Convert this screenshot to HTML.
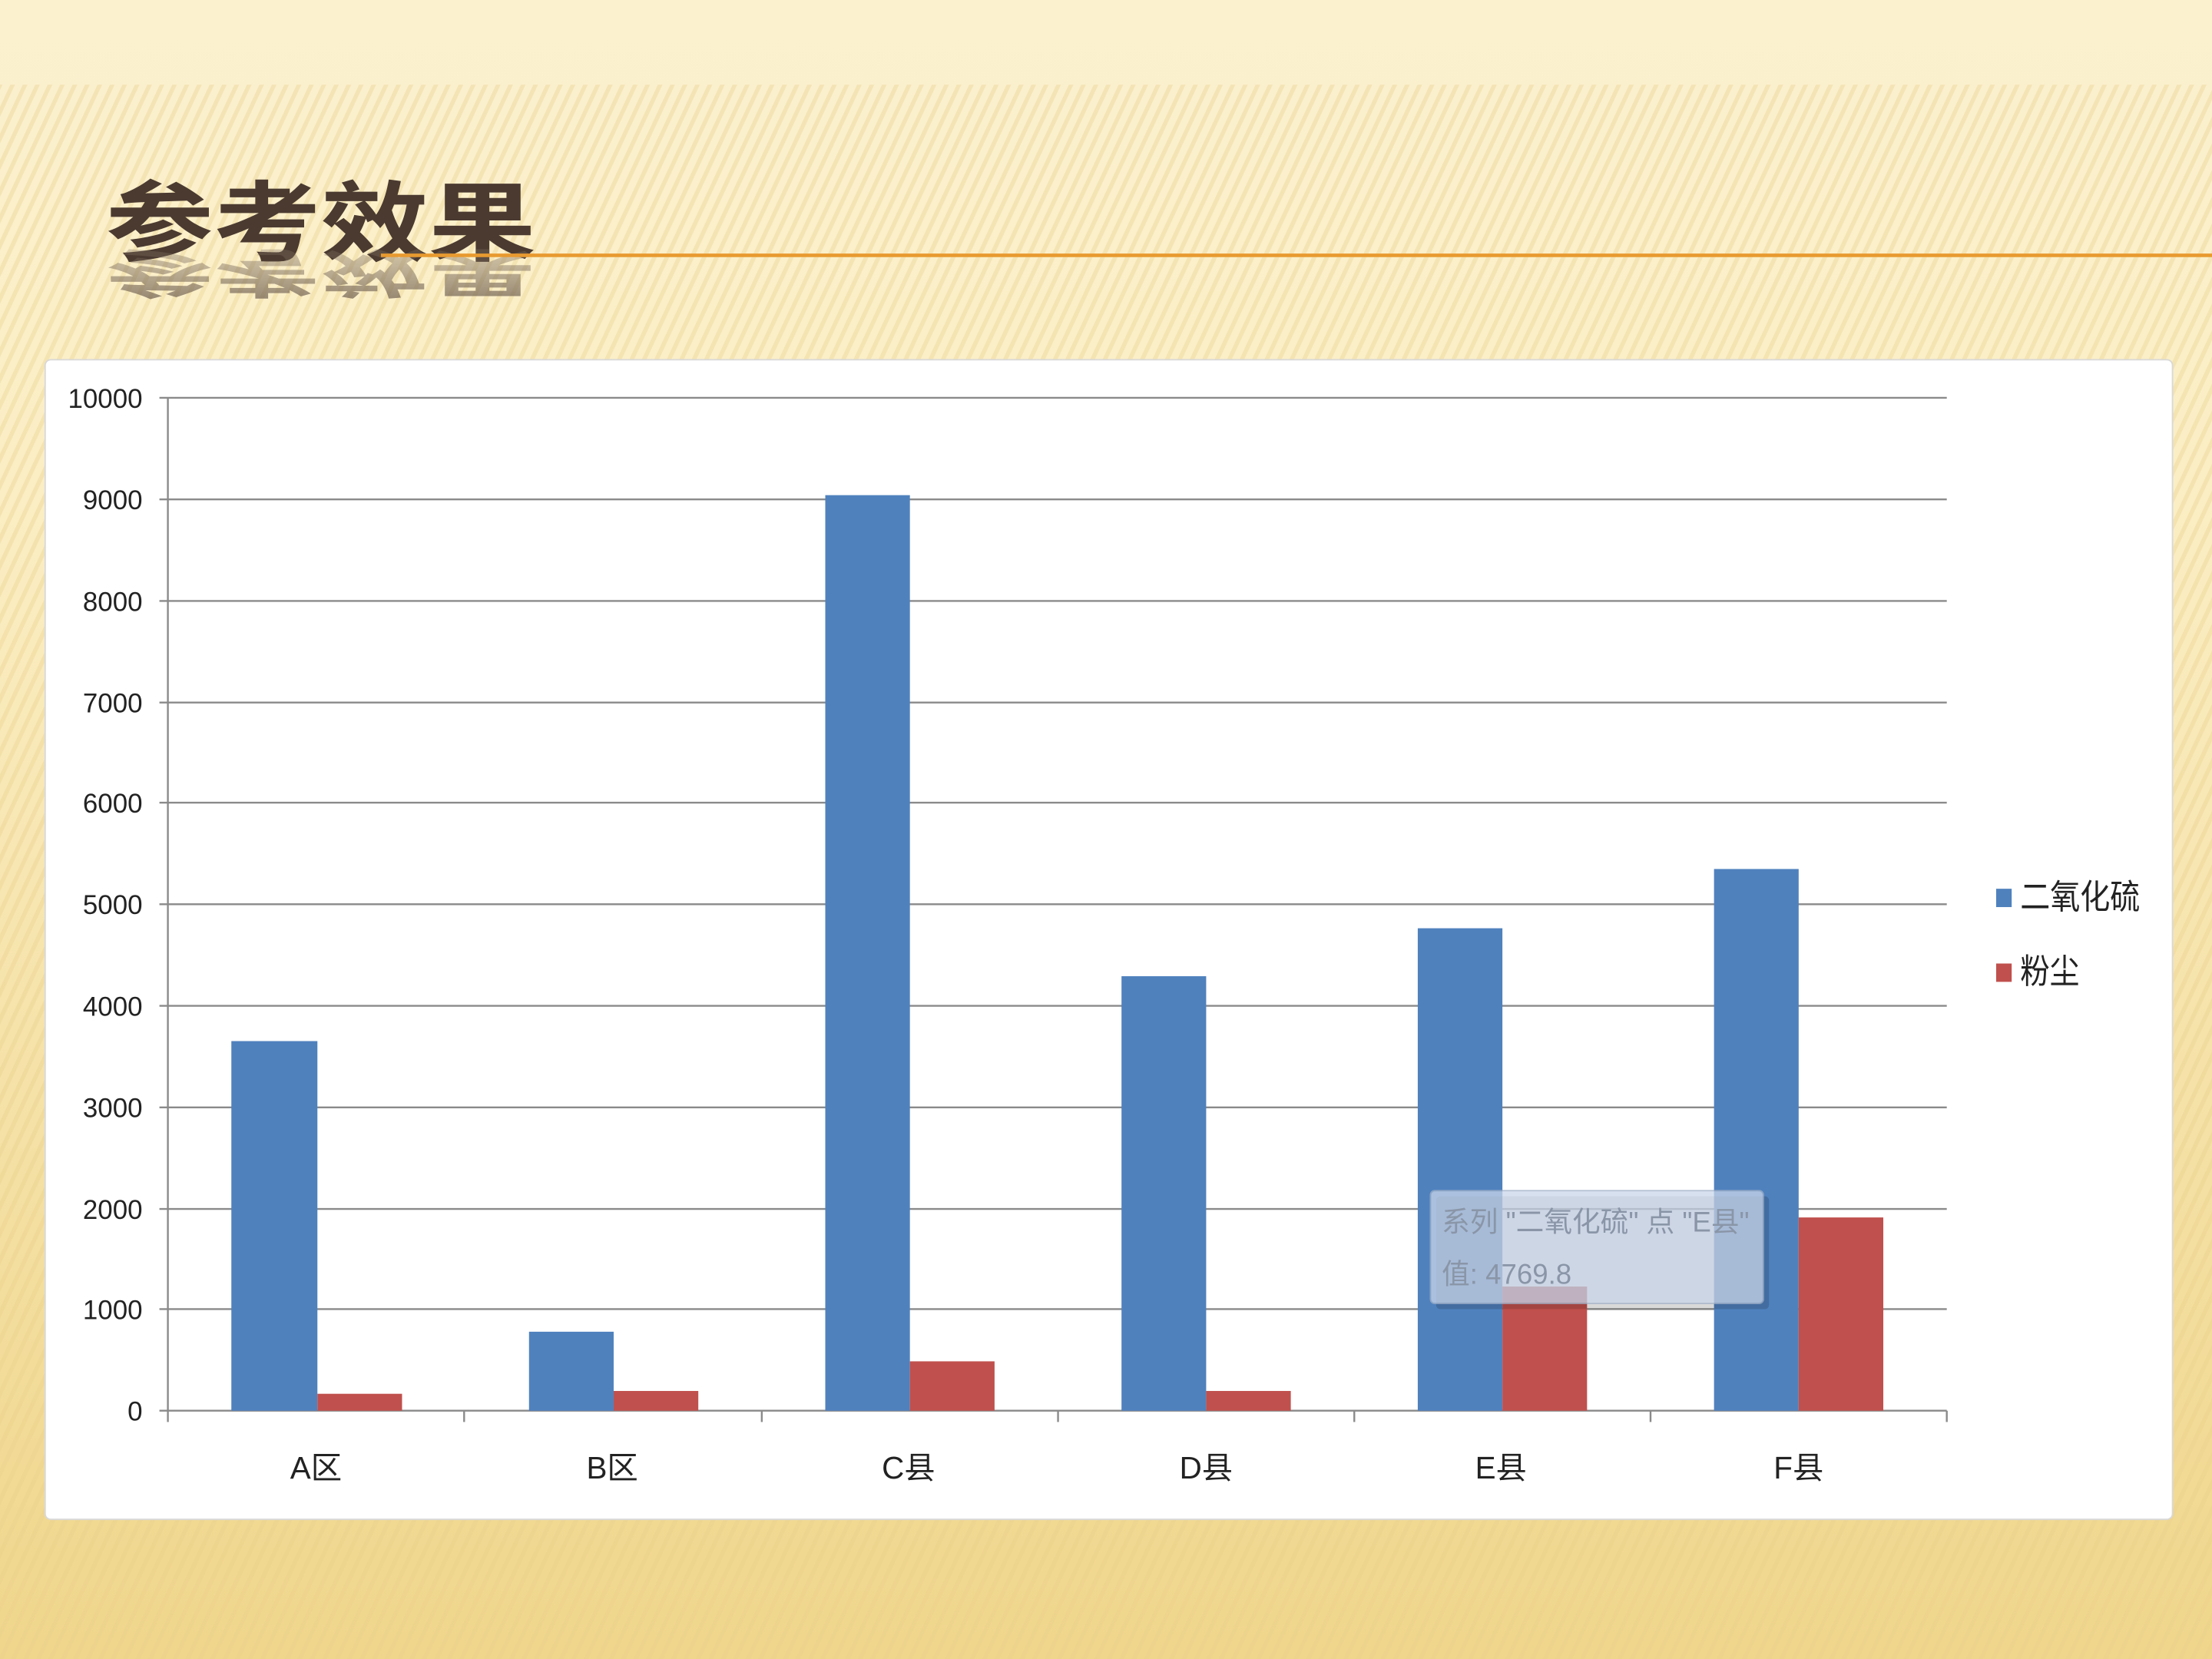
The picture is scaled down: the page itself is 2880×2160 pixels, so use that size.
<!DOCTYPE html>
<html><head><meta charset="utf-8">
<style>
html,body{margin:0;padding:0;width:2880px;height:2160px;overflow:hidden;}
svg{display:block;}
</style></head>
<body>
<svg width="2880" height="2160" viewBox="0 0 1568 1176" xmlns="http://www.w3.org/2000/svg" font-family="'Liberation Sans','Noto Sans CJK SC',sans-serif">
<defs>
<linearGradient id="bg" x1="0" y1="0" x2="0" y2="1">
<stop offset="0" stop-color="#fbf1cf"/>
<stop offset="0.3" stop-color="#fbeec4"/>
<stop offset="1" stop-color="#f0d68c"/>
</linearGradient>
<pattern id="st" width="8" height="8" patternUnits="userSpaceOnUse" patternTransform="rotate(25)">
<rect width="3" height="8" fill="#e8cf8a" opacity="0.35"/>
</pattern>
<linearGradient id="rf" x1="0" y1="0" x2="0" y2="1">
<stop offset="0" stop-color="#5a4a3e" stop-opacity="0.9"/>
<stop offset="1" stop-color="#8a7a6a" stop-opacity="0.3"/>
</linearGradient>
</defs>
<rect width="1568" height="1176" fill="url(#bg)"/>
<rect y="60" width="1568" height="1116" fill="url(#st)"/>
<!-- title -->
<text x="75" y="180" font-size="62" font-weight="bold" fill="#4a3a30" font-family="'Noto Sans CJK SC',sans-serif" textLength="305" lengthAdjust="spacingAndGlyphs">参考效果</text>
<g transform="translate(0,180) scale(1,-0.6) translate(0,-180)">
<text x="75" y="180" font-size="62" font-weight="bold" fill="url(#rf)" font-family="'Noto Sans CJK SC',sans-serif" textLength="305" lengthAdjust="spacingAndGlyphs" opacity="0.85">参考效果</text>
</g>
<line x1="270" y1="181" x2="1568" y2="181" stroke="#e89a30" stroke-width="2.5"/>
<!-- chart panel -->
<rect x="32" y="255" width="1508" height="822" rx="4" fill="#ffffff" stroke="#d8d8d8"/>
<g stroke="#8a8a8a" stroke-width="1.3">
<line x1="113" y1="282" x2="1380" y2="282"/>
<line x1="113" y1="354" x2="1380" y2="354"/>
<line x1="113" y1="426" x2="1380" y2="426"/>
<line x1="113" y1="498" x2="1380" y2="498"/>
<line x1="113" y1="569" x2="1380" y2="569"/>
<line x1="113" y1="641" x2="1380" y2="641"/>
<line x1="113" y1="713" x2="1380" y2="713"/>
<line x1="113" y1="785" x2="1380" y2="785"/>
<line x1="113" y1="857" x2="1380" y2="857"/>
<line x1="113" y1="928" x2="1380" y2="928"/>
<line x1="113" y1="1000" x2="1380" y2="1000"/>
<line x1="119" y1="282" x2="119" y2="1000"/>
<line x1="119" y1="1000" x2="119" y2="1008"/>
<line x1="329" y1="1000" x2="329" y2="1008"/>
<line x1="540" y1="1000" x2="540" y2="1008"/>
<line x1="750" y1="1000" x2="750" y2="1008"/>
<line x1="960" y1="1000" x2="960" y2="1008"/>
<line x1="1170" y1="1000" x2="1170" y2="1008"/>
<line x1="1380" y1="1000" x2="1380" y2="1008"/>
</g>
<g font-size="19" fill="#222" text-anchor="end">
<text x="101" y="289">10000</text>
<text x="101" y="361">9000</text>
<text x="101" y="433">8000</text>
<text x="101" y="505">7000</text>
<text x="101" y="576">6000</text>
<text x="101" y="648">5000</text>
<text x="101" y="720">4000</text>
<text x="101" y="792">3000</text>
<text x="101" y="864">2000</text>
<text x="101" y="935">1000</text>
<text x="101" y="1007">0</text>
</g>
<g fill="#4f81bd">
<rect x="164" y="738" width="61" height="262"/>
<rect x="375" y="944" width="60" height="56"/>
<rect x="585" y="351" width="60" height="649"/>
<rect x="795" y="692" width="60" height="308"/>
<rect x="1005" y="658" width="60" height="342"/>
<rect x="1215" y="616" width="60" height="384"/>
</g>
<g fill="#c0504d">
<rect x="225" y="988" width="60" height="12"/>
<rect x="435" y="986" width="60" height="14"/>
<rect x="645" y="965" width="60" height="35"/>
<rect x="855" y="986" width="60" height="14"/>
<rect x="1065" y="912" width="60" height="88"/>
<rect x="1275" y="863" width="60" height="137"/>
</g>
<g font-size="22" fill="#222" text-anchor="middle">
<text x="224" y="1048">A区</text>
<text x="434" y="1048">B区</text>
<text x="644" y="1048">C县</text>
<text x="855" y="1048">D县</text>
<text x="1064" y="1048">E县</text>
<text x="1275" y="1048">F县</text>
</g>
<!-- tooltip -->
<rect x="1018" y="848" width="236" height="80" rx="3" fill="#000" opacity="0.15"/>
<rect x="1014" y="844" width="236" height="80" rx="3" fill="#c9d6ea" opacity="0.75" stroke="#a0b0c8"/>
<g font-size="20" fill="#8a96a8">
<text x="1022" y="873" textLength="218" lengthAdjust="spacingAndGlyphs">系列 "二氧化硫" 点 "E县"</text>
<text x="1022" y="910" textLength="92" lengthAdjust="spacingAndGlyphs">值: 4769.8</text>
</g>
<!-- legend -->
<rect x="1415" y="630" width="11" height="13" fill="#4f81bd"/>
<text x="1432" y="644" font-size="24" fill="#222" textLength="85" lengthAdjust="spacingAndGlyphs">二氧化硫</text>
<rect x="1415" y="683" width="11" height="13" fill="#c0504d"/>
<text x="1432" y="697" font-size="24" fill="#222" textLength="42" lengthAdjust="spacingAndGlyphs">粉尘</text>
</svg>
</body></html>
